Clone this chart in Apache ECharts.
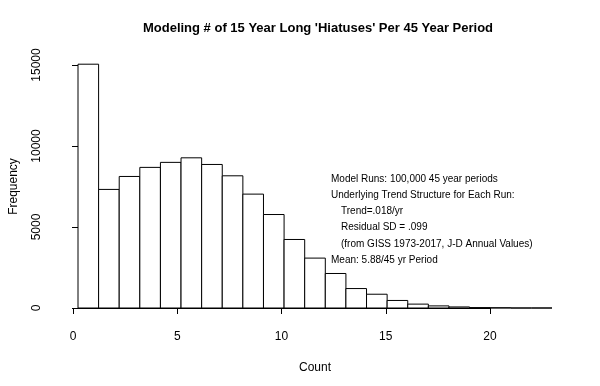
<!DOCTYPE html>
<html>
<head>
<meta charset="utf-8">
<script src="https://cdn.jsdelivr.net/npm/echarts@6/dist/echarts.min.js"></script>
<style>html,body{margin:0;padding:0;background:#fff}#c{width:600px;height:386px}</style>
</head>
<body>
<div id="c"></div>
<script>
// Histogram bins: lower edge of each bin (Count), width 1
const binStarts = [0,1,2,3,4,5,6,7,8,9,10,11,12,13,14,15,16,17,18,19,20,21,22];
const frequencies = [15050,7320,8120,8680,8990,9270,8860,8160,7030,5770,4230,3080,2130,1200,850,465,240,130,65,25,15,0,0];
const xTicks = [0,5,10,15,20];
const yTicks = [0,5000,10000,15000];
const titleText = "Modeling # of 15 Year Long 'Hiatuses' Per 45 Year Period";
const notes = [
  {text: "Model Runs: 100,000 45 year periods", indent: 0},
  {text: "Underlying Trend Structure for Each Run:", indent: 0},
  {text: "Trend=.018/yr", indent: 1},
  {text: "Residual SD = .099", indent: 1},
  {text: "(from GISS 1973-2017, J-D Annual Values)", indent: 1},
  {text: "Mean: 5.88/45 yr Period", indent: 0}
];

const font = "'Liberation Sans', Arial, Helvetica, sans-serif";
const chart = echarts.init(document.getElementById('c'), null, {renderer: 'canvas'});

const data = binStarts.map((s, i) => [s, s + 1, frequencies[i]]);

const noteGraphics = notes.map((n, i) => ({
  type: 'text',
  left: 331 + n.indent * 10,
  top: 174 + i * 16.2,
  style: {text: n.text, fill: '#000', font: '10px ' + font}
}));

chart.setOption({
  animation: false,
  backgroundColor: '#fff',
  title: {
    text: titleText,
    left: 313,
    textAlign: 'center',
    top: 17,
    textStyle: {fontSize: 13, fontWeight: 'bold', color: '#000', fontFamily: font}
  },
  grid: [
    {left: 73, right: 48, top: 65, bottom: 78},
    {left: 73, right: 110, top: 65, bottom: 78}
  ],
  xAxis: [
    {
      gridIndex: 0, type: 'value', min: 0, max: 23,
      axisLine: {show: false}, axisTick: {show: false}, axisLabel: {show: false}, splitLine: {show: false},
      name: 'Count', nameLocation: 'middle', nameGap: 54,
      nameTextStyle: {fontSize: 12, color: '#000', fontFamily: font}
    },
    {
      gridIndex: 1, type: 'value', min: xTicks[0], max: xTicks[xTicks.length - 1], interval: 5,
      offset: 10,
      axisLine: {show: true, lineStyle: {color: '#000', width: 1}},
      axisTick: {show: true, length: 6, lineStyle: {color: '#000'}},
      axisLabel: {show: true, margin: 13, fontSize: 12, color: '#000', fontFamily: font},
      splitLine: {show: false}
    }
  ],
  yAxis: [
    {
      gridIndex: 0, type: 'value', min: yTicks[0], max: yTicks[yTicks.length - 1], interval: 5000,
      offset: 19,
      axisLine: {show: true, lineStyle: {color: '#000', width: 1}},
      axisTick: {show: true, length: 6, lineStyle: {color: '#000'}},
      axisLabel: {show: true, rotate: 90, margin: 16, fontSize: 12, color: '#000', fontFamily: font,
        formatter: function (v) { return String(v); }},
      splitLine: {show: false},
      name: 'Frequency', nameLocation: 'middle', nameGap: 39,
      nameTextStyle: {fontSize: 12, color: '#000', fontFamily: font}
    },
    {gridIndex: 1, type: 'value', min: 0, max: 15000, show: false}
  ],
  series: [{
    type: 'custom',
    xAxisIndex: 0, yAxisIndex: 0,
    clip: false,
    data: data,
    renderItem: function (params, api) {
      const p0 = api.coord([api.value(0), 0]);
      const p1 = api.coord([api.value(1), api.value(2)]);
      return {
        type: 'rect',
        shape: {x: p0[0], y: p1[1], width: p1[0] - p0[0], height: p0[1] - p1[1]},
        style: {fill: '#fff', stroke: '#000', lineWidth: 1}
      };
    }
  }],
  graphic: noteGraphics
});
</script>
</body>
</html>
